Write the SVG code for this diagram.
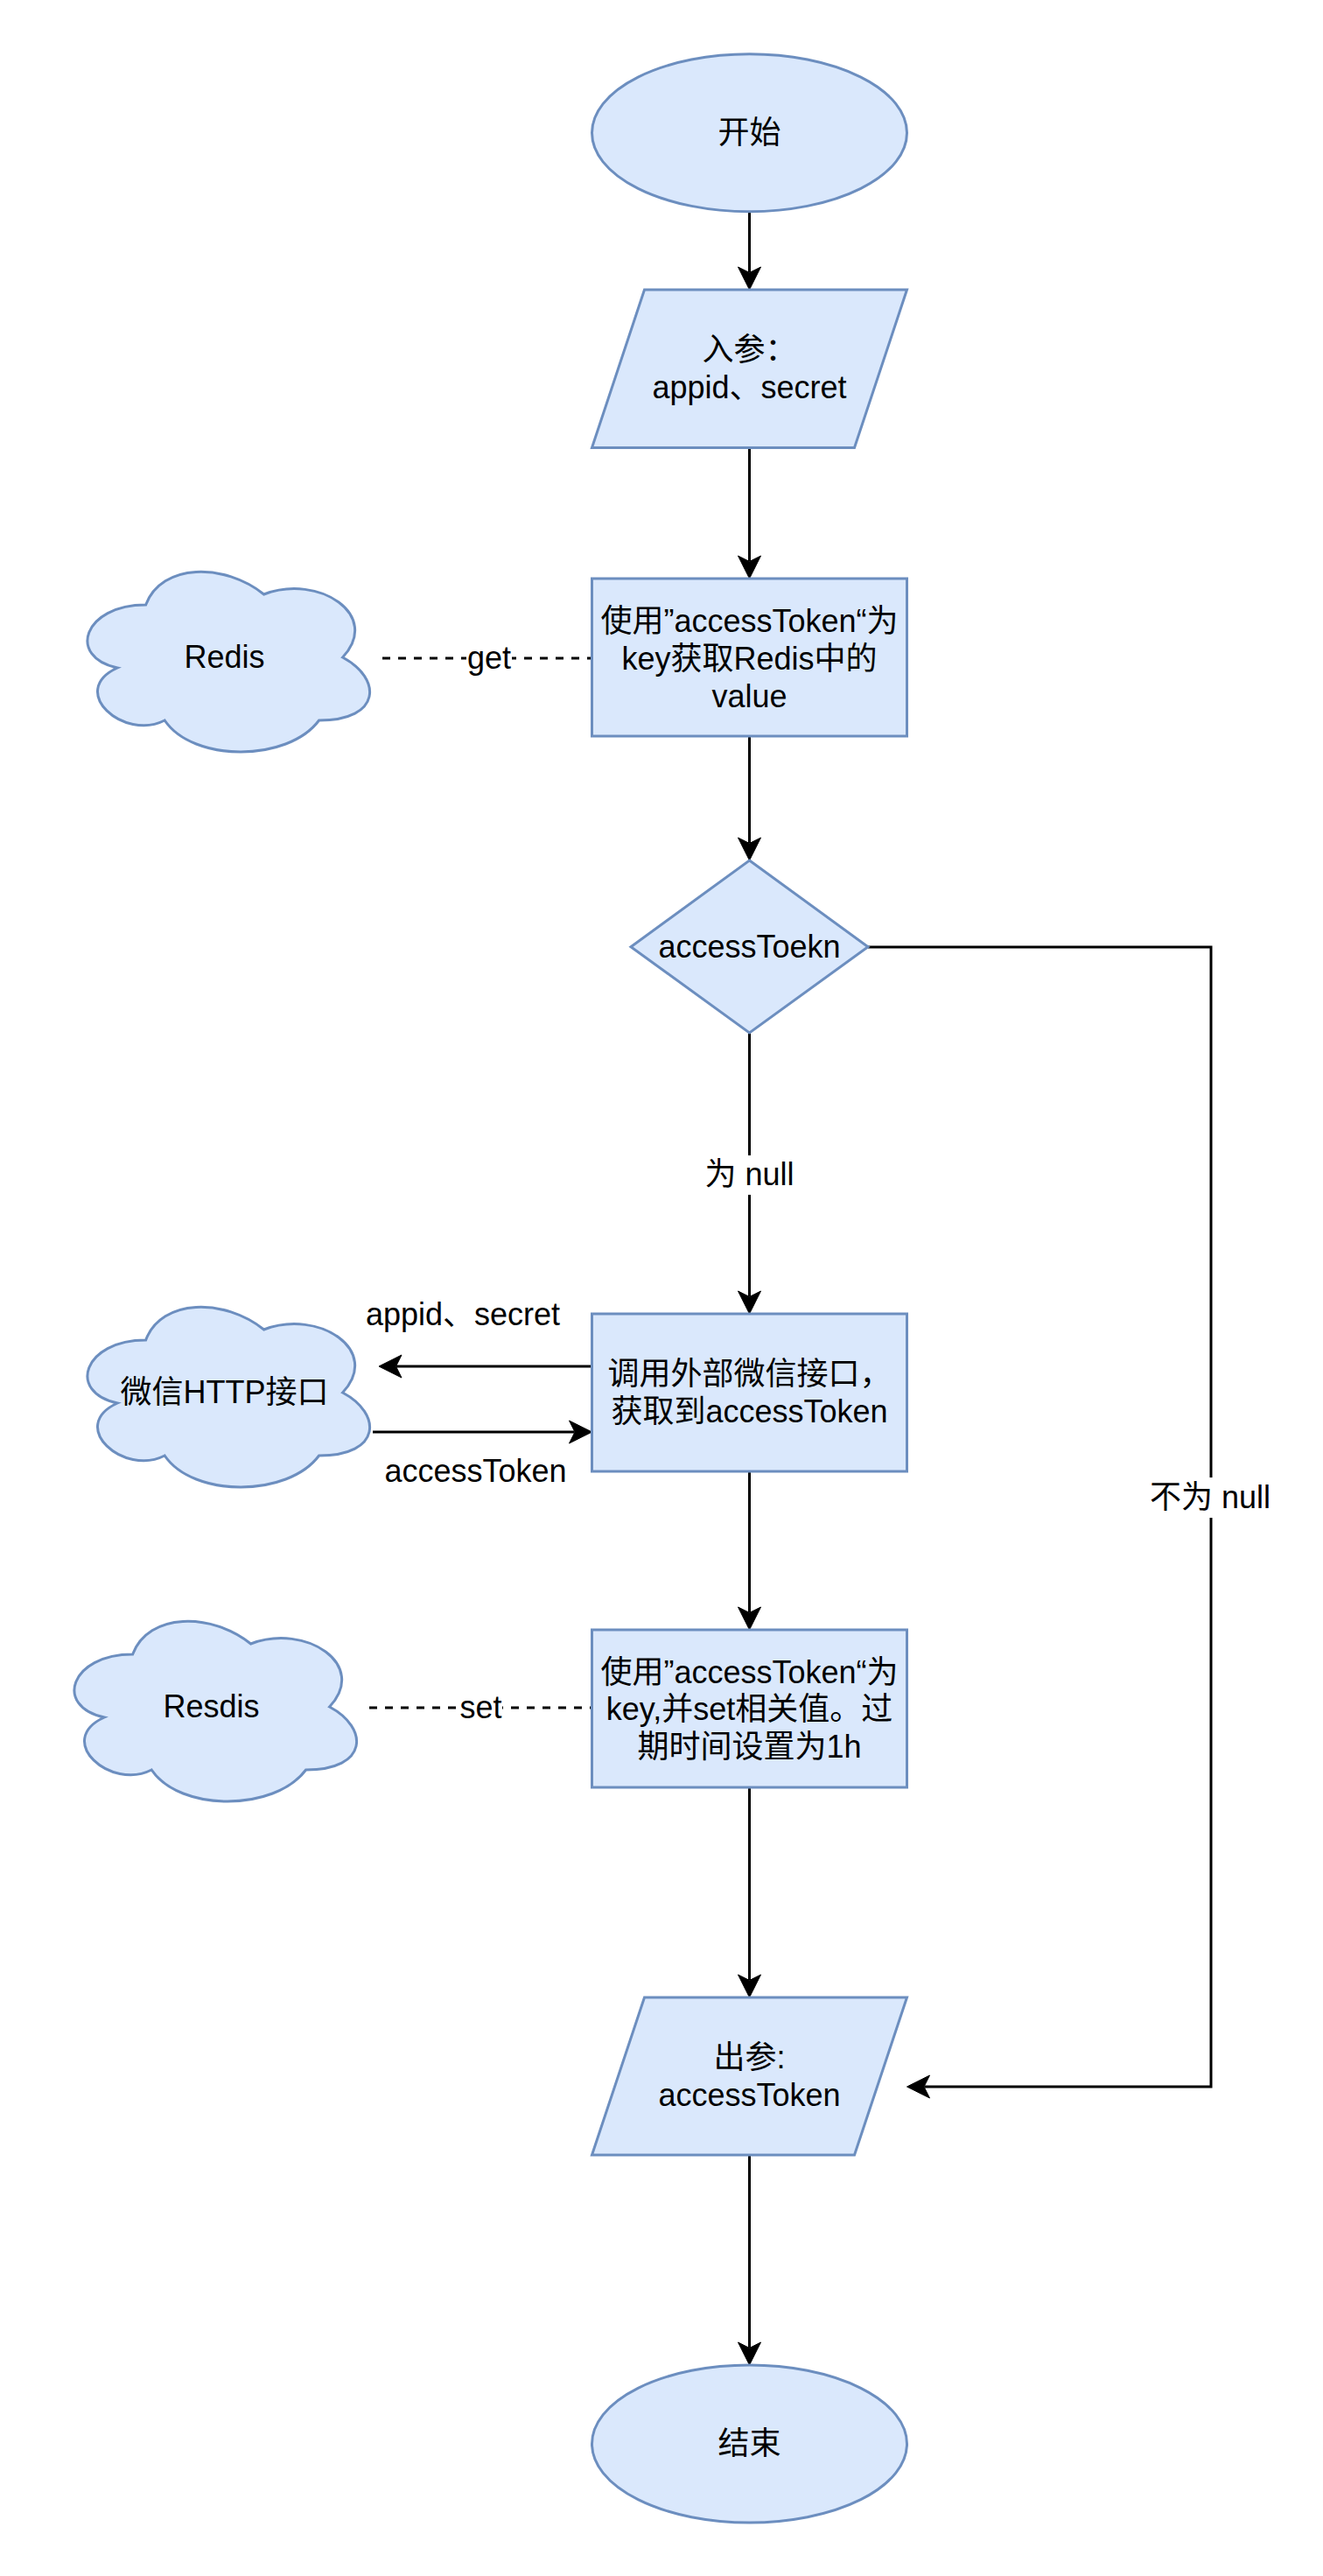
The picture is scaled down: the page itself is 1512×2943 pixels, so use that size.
<svg xmlns="http://www.w3.org/2000/svg" xmlns:xlink="http://www.w3.org/1999/xlink" width="1512" height="2943" viewBox="0 0 1512 2943">
<style>
.shape{fill:#dae8fc;stroke:#6c8ebf;stroke-width:3}
.t{font-family:'Liberation Sans','Noto Sans CJK SC',sans-serif;font-size:36px;fill:#000;text-anchor:middle}
.edge{fill:none;stroke:#000;stroke-width:3}
.arrow{marker-end:url(#arr)}
.dash{fill:none;stroke:#000;stroke-width:3;stroke-dasharray:9 9}
.bg{fill:#fff}
</style>
<defs>
<marker id="arr" markerUnits="userSpaceOnUse" viewBox="-10 -15 32 30" markerWidth="32" markerHeight="30" refX="0" refY="0" orient="auto">
<path d="M20,0 L-6,-13 L0.5,0 L-6,13 Z" fill="#000" stroke="#000" stroke-width="1"/>
</marker>
<path id="cloud" d="M90,60 C18,60 0,120 57.6,132 C0,158.4 64.8,216 111.6,192 C144,240 252,240 288,192 C360,192 360,144 315,120 C360,72 288,24 225,48 C180,12 108,12 90,60 Z"/>
</defs>
<rect width="1512" height="2943" fill="#fff"/>
<g id="connectors">
<line class="edge arrow" x1="856.5" y1="242" x2="856.5" y2="311"/>
<line class="edge arrow" x1="856.5" y1="512" x2="856.5" y2="641"/>
<line class="edge arrow" x1="856.5" y1="841" x2="856.5" y2="963"/>
<line class="edge arrow" x1="856.5" y1="1180" x2="856.5" y2="1481"/>
<line class="edge arrow" x1="856.5" y1="1681" x2="856.5" y2="1842"/>
<line class="edge arrow" x1="856.5" y1="2042" x2="856.5" y2="2262"/>
<line class="edge arrow" x1="856.5" y1="2462" x2="856.5" y2="2682"/>
<path class="edge arrow" d="M992,1082 H1384 V2384 H1056.5"/>
<line class="edge arrow" x1="676.5" y1="1561" x2="453" y2="1561"/>
<line class="edge arrow" x1="426" y1="1636" x2="656.5" y2="1636"/>
<line class="dash" x1="437" y1="752" x2="676.5" y2="752"/>
<line class="dash" x1="422" y1="1951" x2="676.5" y2="1951"/>
<rect class="bg" x="533" y="734" width="52" height="36"/>
<text class="t" x="559" y="764">get</text>
<rect class="bg" x="525" y="1933" width="49" height="36"/>
<text class="t" x="549.5" y="1963">set</text>
<rect class="bg" x="805" y="1320" width="103" height="45"/>
<text class="t" x="856.5" y="1354">为 null</text>
<rect class="bg" x="1313" y="1688" width="141" height="46"/>
<text class="t" x="1383" y="1723">不为 null</text>
<text class="t" x="529" y="1514">appid、secret</text>
<text class="t" x="543.5" y="1693">accessToken</text>
</g>
<g id="start">
<ellipse class="shape" cx="856.5" cy="151.7" rx="180" ry="90"/>
<text class="t" x="856.5" y="164">开始</text>
</g>
<g id="input">
<polygon class="shape" points="736.5,331 1036.5,331 976.5,511.5 676.5,511.5"/>
<text class="t" x="856.5" y="412">入参：</text>
<text class="t" x="856.5" y="455">appid、secret</text>
</g>
<g id="getRedis">
<rect class="shape" x="676.5" y="661" width="360" height="180"/>
<text class="t" x="856.5" y="722">使用”accessToken“为</text>
<text class="t" x="856.5" y="765">key获取Redis中的</text>
<text class="t" x="856.5" y="808">value</text>
</g>
<g id="redis">
<use href="#cloud" xlink:href="#cloud" class="shape" x="76.6" y="631"/>
<text class="t" x="256.6" y="763">Redis</text>
</g>
<g id="decision">
<polygon class="shape" points="856.5,983 992,1081.7 856.5,1180 721,1081.7"/>
<text class="t" x="856.5" y="1094">accessToekn</text>
</g>
<g id="callWechat">
<rect class="shape" x="676.5" y="1501" width="360" height="180"/>
<text class="t" x="856.5" y="1582">调用外部微信接口，</text>
<text class="t" x="856.5" y="1625">获取到accessToken</text>
</g>
<g id="wechat">
<use href="#cloud" xlink:href="#cloud" class="shape" x="76.6" y="1471"/>
<text class="t" x="256.6" y="1603">微信HTTP接口</text>
</g>
<g id="setRedis">
<rect class="shape" x="676.5" y="1862" width="360" height="180"/>
<text class="t" x="856.5" y="1923">使用”accessToken“为</text>
<text class="t" x="856.5" y="1965">key,并set相关值。过</text>
<text class="t" x="856.5" y="2008">期时间设置为1h</text>
</g>
<g id="resdis">
<use href="#cloud" xlink:href="#cloud" class="shape" x="61.6" y="1830"/>
<text class="t" x="241.6" y="1962">Resdis</text>
</g>
<g id="output">
<polygon class="shape" points="736.5,2282 1036.5,2282 976.5,2462 676.5,2462"/>
<text class="t" x="856.5" y="2363">出参:</text>
<text class="t" x="856.5" y="2406">accessToken</text>
</g>
<g id="end">
<ellipse class="shape" cx="856.5" cy="2792" rx="180" ry="90"/>
<text class="t" x="856.5" y="2804">结束</text>
</g>
</svg>
